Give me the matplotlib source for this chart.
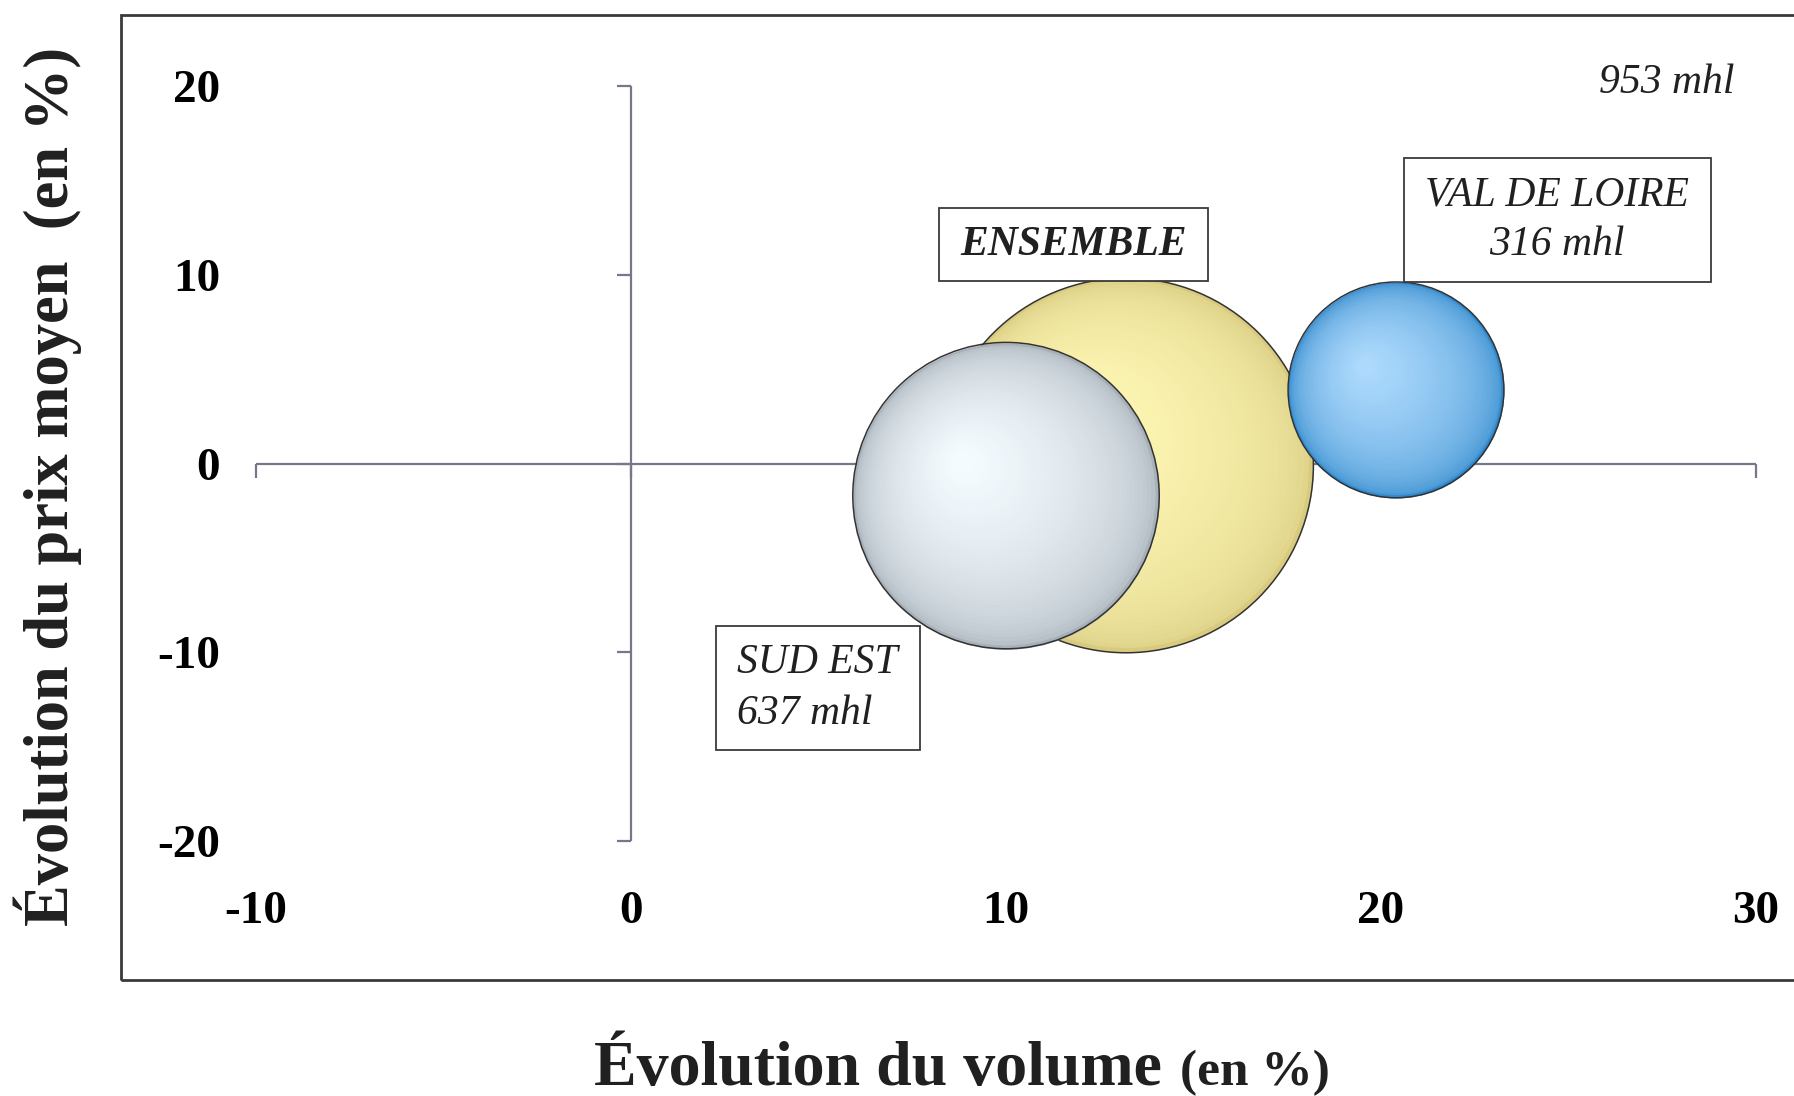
import numpy as np
import matplotlib
matplotlib.use("Agg")
import matplotlib.pyplot as plt
import matplotlib.colors as mcolors
from matplotlib.patches import Rectangle
from matplotlib.transforms import ScaledTranslation
from matplotlib.lines import TICKDOWN, TICKLEFT

plt.rcParams["font.family"] = ["Liberation Serif", "DejaVu Serif"]
plt.rcParams["axes.unicode_minus"] = False

# data
regions = ["ENSEMBLE", "SUD EST", "VAL DE LOIRE"]
volume_change = [13.2, 10.0, 20.4]   # x, %
price_change = [-0.1, -1.7, 3.9]     # y, %
volumes_mhl = [953, 637, 316]        # bubble size

x_ticks = [-10, 0, 10, 20, 30]
y_ticks = [-20, -10, 0, 10, 20]

# styles
bubble_colors = [("#d8cb80", "#fff8b6"),   # ENSEMBLE: edge, highlight
                 ("#a8b0b9", "#f3fbff"),   # SUD EST
                 ("#3088cc", "#acd9fc")]   # VAL DE LOIRE
label_pos = [(11.8, 11.6), (4.98, -11.9), (24.7, 12.9)]
bubble_scale = 76.4  # pt^2 per mhl
axis_col = "#77778a"

fig = plt.figure(figsize=(17.94, 10.96), dpi=100)
ax = fig.add_axes([256 / 1794, 1 - 841 / 1096, 1500 / 1794, 755 / 1096])
ax.set_xlim(-10, 30)
ax.set_ylim(-20, 20)
for sp in ax.spines.values():
    sp.set_visible(False)
ax.set_xticks(x_ticks)
ax.set_yticks(y_ticks)
ax.tick_params(axis="x", length=0, pad=36, labelsize=34)
ax.tick_params(axis="y", length=0, pad=26, labelsize=34)
for lab in ax.get_xticklabels() + ax.get_yticklabels():
    lab.set_fontweight("bold")

# cross axes through zero with their tick marks
ax.axhline(0, color=axis_col, lw=1.6, zorder=1)
ax.axvline(0, color=axis_col, lw=1.6, zorder=1)
ax.plot(x_ticks, np.zeros(len(x_ticks)), linestyle="none", marker=TICKDOWN,
        markersize=10, markeredgewidth=1.6, color=axis_col, zorder=1, clip_on=False)
ax.plot(np.zeros(len(y_ticks)), y_ticks, linestyle="none", marker=TICKLEFT,
        markersize=10, markeredgewidth=1.6, color=axis_col, zorder=1, clip_on=False)


def draw_bubble(x, y, s, outer, inner, z, n=45):
    R = np.sqrt(s) / 2.0
    c0 = np.array(mcolors.to_rgb(outer))
    c1 = np.array(mcolors.to_rgb(inner))
    for k in range(n):
        t = k / (n - 1)
        r = R * (1 - 0.92 * t)
        shift = ScaledTranslation(-0.28 * R * t / 72, 0.22 * R * t / 72,
                                  fig.dpi_scale_trans)
        col = c0 + (c1 - c0) * (t ** 0.4)
        ax.scatter([x], [y], s=(2 * r) ** 2, color=col, linewidths=0,
                   transform=ax.transData + shift, zorder=z, clip_on=False)
    ax.scatter([x], [y], s=s, facecolor="none", edgecolor="#333333",
               linewidths=1.1, zorder=z, clip_on=False)


for i in range(len(regions)):
    draw_bubble(volume_change[i], price_change[i], volumes_mhl[i] * bubble_scale,
                bubble_colors[i][0], bubble_colors[i][1], 3 + i)

box = dict(boxstyle="square,pad=0.52", mutation_aspect=0.8,
           facecolor="white", edgecolor="#3a3a3a", lw=1.3)
for i, name in enumerate(regions):
    if name == "ENSEMBLE":
        ax.text(label_pos[i][0], label_pos[i][1], name, fontsize=30,
                style="italic", weight="bold", ha="center", va="center",
                bbox=box, zorder=10, color="#202020")
        ax.text(29.42, 20.15, f"{volumes_mhl[i]} mhl", fontsize=30,
                style="italic", ha="right", va="center", color="#202020")
    else:
        ax.text(label_pos[i][0], label_pos[i][1], f"{name}\n{volumes_mhl[i]} mhl",
                fontsize=30, style="italic", ha="center", va="center",
                multialignment="left" if name == "SUD EST" else "center",
                bbox=box, zorder=10, color="#202020", linespacing=1.4)

# outer frame, cut off on the right like the scan
fig.add_artist(Rectangle((121 / 1794, 1 - 980 / 1096), 1.0, 965 / 1096,
                         transform=fig.transFigure, fill=False,
                         edgecolor="#3a3a3a", lw=2.0))

# axis titles
fig.text(48 / 1794, 1 - 486 / 1096, "Évolution du prix moyen  (en %)",
         rotation=90, ha="center", va="center", fontsize=45, weight="bold",
         color="#202020")
t1 = fig.text(594 / 1794, 1 - 1085 / 1096, "Évolution du volume", ha="left",
              va="baseline", fontsize=46, weight="bold", color="#202020")
fig.text(1180 / 1794, 1 - 1085 / 1096, "(en %)", ha="left", va="baseline",
         fontsize=37, weight="bold", color="#202020")

fig.savefig("out.png", dpi=100)
print("Saved out.png")
